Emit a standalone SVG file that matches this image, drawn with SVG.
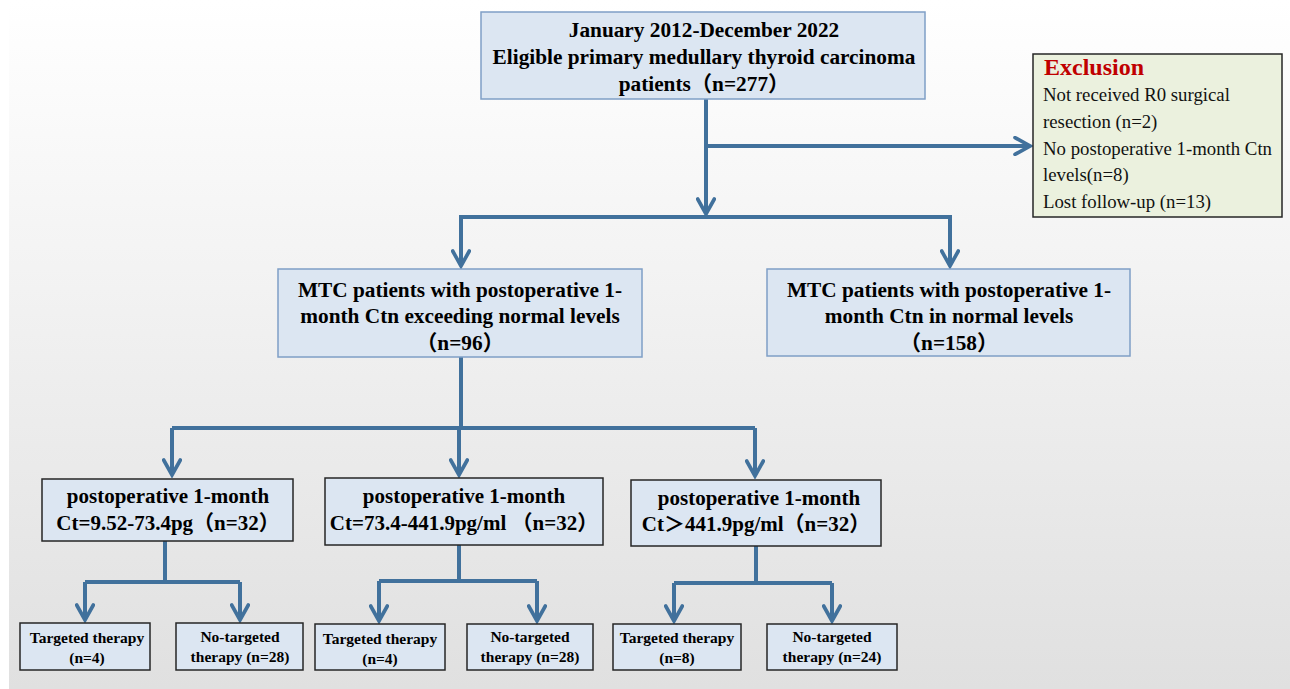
<svg xmlns="http://www.w3.org/2000/svg" width="1290" height="689" viewBox="0 0 1290 689">
<defs>
<linearGradient id="bg" x1="0" y1="0" x2="0" y2="1">
<stop offset="0" stop-color="#ffffff"/>
<stop offset="1" stop-color="#e0e0e0"/>
</linearGradient>
<marker id="arr" viewBox="0 0 12 12" refX="10" refY="6" markerWidth="5" markerHeight="5" orient="auto" markerUnits="strokeWidth">
<path d="M1,1 L10,6 L1,11" fill="none" stroke="#41719c" stroke-width="2.2" stroke-linecap="round" stroke-linejoin="miter"/>
</marker>
<style>
.t{font-weight:bold;fill:#000;text-anchor:middle}
.big{font-size:21.3px}
.mid{font-size:21px}
.sm{font-size:15.5px}
.ex{font-size:18.8px;fill:#111}
.blue{fill:#dce6f2;stroke:#7f9fc6;stroke-width:1.5}
.dark{fill:#dce6f2;stroke:#262626;stroke-width:1.5}
.c{fill:none;stroke:#41719c;stroke-width:4}
.ca{fill:none;stroke:#41719c;stroke-width:4;marker-end:url(#arr)}
</style>
</defs>
<rect x="0" y="0" width="1290" height="689" fill="#ffffff"/>
<rect x="9" y="0" width="1281" height="689" fill="url(#bg)"/>

<g id="connectors">
<line class="c" x1="706" y1="99" x2="706" y2="146"/>
<line class="ca" x1="706" y1="146" x2="1030" y2="146"/>
<line class="ca" x1="706" y1="146" x2="706" y2="214"/>
<polyline class="c" points="461,264 461,217 950,217 950,264"/>
<line class="ca" x1="461" y1="217" x2="461" y2="266"/>
<line class="ca" x1="950" y1="217" x2="950" y2="266"/>
<line class="c" x1="461" y1="357" x2="461" y2="428"/>
<line class="c" x1="172" y1="428" x2="755" y2="428"/>
<line class="ca" x1="172" y1="428" x2="172" y2="475"/>
<line class="ca" x1="459" y1="428" x2="459" y2="475"/>
<line class="ca" x1="755" y1="428" x2="755" y2="476"/>
<line class="c" x1="165" y1="541" x2="165" y2="582"/>
<line class="c" x1="85" y1="582" x2="240" y2="582"/>
<line class="ca" x1="85" y1="582" x2="85" y2="620"/>
<line class="ca" x1="240" y1="582" x2="240" y2="620"/>
<line class="c" x1="459" y1="545" x2="459" y2="581"/>
<line class="c" x1="379" y1="581" x2="537" y2="581"/>
<line class="ca" x1="379" y1="581" x2="379" y2="621"/>
<line class="ca" x1="537" y1="581" x2="537" y2="621"/>
<line class="c" x1="756" y1="546" x2="756" y2="583"/>
<line class="c" x1="674" y1="583" x2="832" y2="583"/>
<line class="ca" x1="674" y1="583" x2="674" y2="621"/>
<line class="ca" x1="832" y1="583" x2="832" y2="621"/>
</g>

<g font-family="Liberation Serif, Noto Sans CJK SC, serif">
<g id="top">
<rect class="blue" x="481" y="12" width="444" height="87"/>
<text class="t big" x="704" y="37">January 2012-December 2022</text>
<text class="t big" x="704" y="64">Eligible primary medullary thyroid carcinoma</text>
<text class="t big" x="704" y="91">patients（n=277）</text>
</g>

<g id="exclusion">
<rect x="1033" y="54" width="249" height="163" fill="#ebf1de" stroke="#262626" stroke-width="1.5"/>
<text x="1044" y="75" font-weight="bold" font-size="24" fill="#c00000">Exclusion</text>
<text class="ex" x="1043" y="101">Not received R0 surgical</text>
<text class="ex" x="1043" y="128">resection (n=2)</text>
<text class="ex" x="1043" y="155">No postoperative 1-month Ctn</text>
<text class="ex" x="1043" y="181">levels(n=8)</text>
<text class="ex" x="1043" y="208">Lost follow-up (n=13)</text>
</g>

<g id="exceed">
<rect class="blue" x="278" y="269" width="364" height="88"/>
<text class="t big" x="460" y="297">MTC patients with postoperative 1-</text>
<text class="t big" x="460" y="323">month Ctn exceeding normal levels</text>
<text class="t big" x="460" y="350">（n=96）</text>
</g>

<g id="normal">
<rect class="blue" x="767" y="269" width="363" height="87"/>
<text class="t big" x="949" y="297">MTC patients with postoperative 1-</text>
<text class="t big" x="949" y="323">month Ctn in normal levels</text>
<text class="t big" x="949" y="350">（n=158）</text>
</g>

<g id="grp1">
<rect class="dark" x="42" y="479" width="251" height="62"/>
<text class="t mid" x="168" y="503">postoperative 1-month</text>
<text class="t mid" x="168" y="530">Ct=9.52-73.4pg（n=32）</text>
</g>
<g id="grp2">
<rect class="dark" x="325" y="478" width="278" height="67"/>
<text class="t mid" x="464" y="503">postoperative 1-month</text>
<text class="t mid" x="464" y="530">Ct=73.4-441.9pg/ml （n=32）</text>
</g>
<g id="grp3">
<rect class="dark" x="631" y="480" width="250" height="66"/>
<text class="t mid" x="759" y="505">postoperative 1-month</text>
<text class="t mid" x="756" y="531">Ct＞441.9pg/ml（n=32）</text>
</g>

<g id="t1">
<rect class="dark" x="20" y="623" width="130" height="47"/>
<text class="t sm" x="87" y="643">Targeted therapy</text>
<text class="t sm" x="87" y="663">(n=4)</text>
</g>
<g id="n1">
<rect class="dark" x="176" y="623" width="127" height="47"/>
<text class="t sm" x="240" y="642">No-targeted</text>
<text class="t sm" x="240" y="662">therapy (n=28)</text>
</g>
<g id="t2">
<rect class="dark" x="315" y="624" width="130" height="46"/>
<text class="t sm" x="380" y="644">Targeted therapy</text>
<text class="t sm" x="380" y="664">(n=4)</text>
</g>
<g id="n2">
<rect class="dark" x="467" y="624" width="126" height="46"/>
<text class="t sm" x="530" y="642">No-targeted</text>
<text class="t sm" x="530" y="662">therapy (n=28)</text>
</g>
<g id="t3">
<rect class="dark" x="613" y="624" width="128" height="46"/>
<text class="t sm" x="677" y="643">Targeted therapy</text>
<text class="t sm" x="677" y="663">(n=8)</text>
</g>
<g id="n3">
<rect class="dark" x="767" y="624" width="130" height="46"/>
<text class="t sm" x="832" y="642">No-targeted</text>
<text class="t sm" x="832" y="662">therapy (n=24)</text>
</g>
</g>
</svg>
